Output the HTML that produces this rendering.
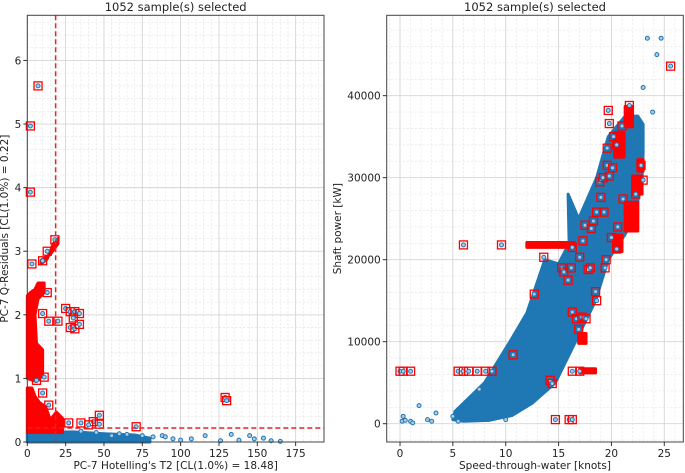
<!DOCTYPE html>
<html><head><meta charset="utf-8"><style>
body{margin:0;background:#fff;}
svg{display:block;font-family:"DejaVu Sans","Liberation Sans",sans-serif;}
</style></head><body>
<svg id="c" width="685" height="473" xmlns="http://www.w3.org/2000/svg"></svg>
<script>
// ---------- Left chart data ----------
const leftXTicks=[0,25,50,75,100,125,150,175];
const leftYTicks=[0,1,2,3,4,5,6];
const t2Limit=18.48, qLimit=0.22;
const leftBlueBand=[[0,0],[0,0.15],[30,0.16],[50,0.13],[70,0.11],[80,0.06],[80,0]];
const leftBluePts=[[35,0.17],[45,0.15],[55,0.1],[60,0.13],[65,0.12],[75,0.1],[82,0.08],[88,0.1],[90,0.08],[95,0.05],[100,0.03],[107,0.05],[116,0.1],[126,0.02],[133,0.12],[138,0.03],[145,0.1],[148,0.05],[154,0.06],[159,0.02],[165,0.01]];
const leftRedClusters=[
 [[0,0.15],[0,0.85],[3,0.85],[5,0.72],[8,0.62],[12,0.55],[15,0.35],[19,0.47],[23,0.37],[23,0.15]],
 [[0,1.0],[0,2.3],[2,2.35],[5,2.4],[7,2.5],[11,2.5],[11,2.35],[7,2.25],[5,2.0],[6,1.55],[10,1.45],[10,1.05],[6,0.95]],
 [[9,2.8],[13,2.88],[17,3.12],[20,3.2],[20,3.12],[15,2.95],[12,2.9],[9,2.86]]
];
const leftRedPts=[[2,4.97],[2,3.93],[7,5.6],[3,2.8],[13,2.35],[10,2.02],[14,1.9],[20,1.9],[25,2.1],[28,2.05],[31,2.05],[34,2.02],[28,1.8],[31,1.78],[34,1.85],[30,1.95],[11,1.02],[10,0.77],[6,0.97],[27,0.3],[35,0.3],[43,0.32],[47,0.42],[47,0.28],[40,0.27],[71,0.24],[129,0.7],[130,0.65],[14,0.58],[10,2.85],[13,3.0],[18,3.18]];
// ---------- Right chart data ----------
const rightXTicks=[0,5,10,15,20,25];
const rightYTicks=[0,10000,20000,30000,40000];
const rightCloud=[[5,500],[5.2,1500],[8,5000],[10.4,10000],[12,13500],[13.7,20000],[15,19500],[16,22000],[15.9,28000],[16.9,25000],[18.6,30000],[19.7,35000],[21.3,37500],[22.5,37500],[23,36500],[23,33000],[22.9,30000],[22.2,25000],[21,22500],[19.7,20000],[18.5,15000],[16.6,10000],[14.7,5000],[12.5,2500],[10.6,1000],[8.4,400],[6,300]];
const rightBluePts=[[0.2,300],[0.3,900],[0.5,400],[1,300],[1.2,100],[1.8,2200],[2.6,500],[3,300],[3.4,1300],[5,900],[5.5,300],[7.5,4200],[10,500],[23.4,47000],[24.7,47000],[24.3,45000],[23,41000],[23.9,38000]];
const rightRedClusters=[
 [[12,21500],[16.5,21500],[16.5,22100],[12,22100]],
 [[17,6200],[18.5,6200],[18.5,6700],[17,6700]],
 [[16.9,9800],[17.6,9800],[17.6,11000],[16.9,11000]],
 [[21.3,36200],[22,36200],[22,38700],[21.3,38700]],
 [[20.3,32500],[21.2,32500],[21.2,35500],[20.3,35500]],
 [[22,28000],[22.9,28000],[22.9,30200],[22,30200]],
 [[21.3,23500],[22.5,23500],[22.5,27000],[21.3,27000]],
 [[20.2,21000],[21,21000],[21,23000],[20.2,23000]],
 [[22.5,30800],[23,30800],[23,32200],[22.5,32200]]
];
const rightRedPts=[[0,6400],[0.3,6400],[1,6400],[5.5,6400],[6,6400],[6.5,6400],[7.3,6400],[8.1,6400],[8.7,6400],[16.3,6400],[17,6400],[6,21800],[9.6,21800],[13.6,20300],[12.7,15800],[10.7,8400],[14.2,5300],[14.4,4900],[14.7,500],[16,500],[16.3,500],[16.3,21500],[16.2,19000],[15.3,19000],[15.5,18500],[15.9,17500],[16.3,13600],[16.7,12800],[17.2,13000],[17.6,12800],[16.9,11500],[17,20300],[17.3,22300],[17.5,24200],[17.8,18800],[18,19000],[18.1,23800],[18.3,24700],[18.5,16100],[18.6,15000],[18.6,25800],[19.4,19000],[19.5,20000],[19.3,25800],[20,22700],[20.5,21300],[20.6,24000],[19,27600],[18.9,29500],[19.2,30000],[19.6,31500],[19.8,30200],[20.1,31200],[19.6,33600],[19.8,36600],[19.7,38200],[21.7,38800],[21,36300],[20.2,35000],[20.5,34000],[22.8,31500],[23,29700],[21.1,27400],[22.3,28000],[25.6,43600]];

const NS="http://www.w3.org/2000/svg";
const svg=document.getElementById('c');
function el(tag,attrs,parent){const e=document.createElementNS(NS,tag);for(const k in attrs)e.setAttribute(k,attrs[k]);(parent||svg).appendChild(e);return e;}

function panel(cfg){
 const g=el('g',{});
 
 
 const {L,R,T,B,x0,x1,y0,y1}=cfg;
 const sx=v=>L+(v-x0)/(x1-x0)*(R-L);
 const sy=v=>B-(v-y0)/(y1-y0)*(B-T);
 for(let v=Math.ceil(x0/cfg.xm)*cfg.xm;v<=x1;v+=cfg.xm){el('line',{x1:sx(v),x2:sx(v),y1:T,y2:B,stroke:'#e4e4e4','stroke-width':0.7,'stroke-dasharray':'2,2'},g);}
 for(let v=Math.ceil(y0/cfg.ym)*cfg.ym;v<=y1;v+=cfg.ym){el('line',{y1:sy(v),y2:sy(v),x1:L,x2:R,stroke:'#e4e4e4','stroke-width':0.7,'stroke-dasharray':'2,2'},g);}
 cfg.xt.forEach(v=>{el('line',{x1:sx(v),x2:sx(v),y1:T,y2:B,stroke:'#d6d6d6','stroke-width':0.9},g);});
 cfg.yt.forEach(v=>{el('line',{y1:sy(v),y2:sy(v),x1:L,x2:R,stroke:'#d6d6d6','stroke-width':0.9},g);});
 const poly=(pts,fill,name)=>{const p=el('polygon',{points:pts.map(q=>sx(q[0])+','+sy(q[1])).join(' '),fill:fill,stroke:fill,'stroke-width':3,'stroke-linejoin':'round'},g);};
 cfg.blueArea.forEach(a=>poly(a,'#1f77b4','blue-cloud'));
 cfg.bluePts.forEach(q=>{const c=el('circle',{cx:sx(q[0]),cy:sy(q[1]),r:2,fill:'#a9cbe5',stroke:'#1f77b4','stroke-width':1},g);});
 cfg.redArea.forEach(a=>poly(a,'#ff0000','selected-cluster'));
 cfg.redPts.forEach(q=>{
  const x=sx(q[0]),y=sy(q[1]);
  el('circle',{cx:x,cy:y,r:2,fill:'#a9cbe5',stroke:'#1f77b4','stroke-width':1},g);
  const r=el('rect',{x:x-4,y:y-4,width:8,height:8,fill:'none',stroke:'#ff0000','stroke-width':1.3},g);
  
 });
 if(cfg.limits){
  const a=el('line',{x1:sx(cfg.limits[0]),x2:sx(cfg.limits[0]),y1:T,y2:B,stroke:'#e8212a','stroke-width':1.5,'stroke-dasharray':'5,3'},g);
  
  const b=el('line',{x1:L,x2:R,y1:sy(cfg.limits[1]),y2:sy(cfg.limits[1]),stroke:'#e8212a','stroke-width':1.5,'stroke-dasharray':'5,3'},g);
  
 }
 const fr=el('rect',{x:L,y:T,width:R-L,height:B-T,fill:'none',stroke:'#444','stroke-width':1},g);
 
 cfg.xt.forEach(v=>{el('line',{x1:sx(v),x2:sx(v),y1:B,y2:B+4,stroke:'#333'},g);
  const t=el('text',{x:sx(v),y:B+15,'font-size':10.5,'text-anchor':'middle',fill:'#222'},g);t.textContent=v;
  });
 cfg.yt.forEach(v=>{el('line',{x1:L-4,x2:L,y1:sy(v),y2:sy(v),stroke:'#333'},g);
  const t=el('text',{x:L-6,y:sy(v)+4,'font-size':10.5,'text-anchor':'end',fill:'#222'},g);t.textContent=v;
  });
 const ti=el('text',{x:(L+R)/2,y:11,'font-size':11.5,'text-anchor':'middle',fill:'#222'},g);ti.textContent='1052 sample(s) selected';
 
 const xl=el('text',{x:(L+R)/2,y:469,'font-size':10.5,'text-anchor':'middle',fill:'#222'},g);xl.textContent=cfg.xlabel;
 
 const yl=el('text',{x:0,y:0,'font-size':10.5,'text-anchor':'middle',fill:'#222',transform:`translate(${cfg.ylx},${(T+B)/2}) rotate(-90)`},g);yl.textContent=cfg.ylabel;
 
}
panel({name:'q-vs-t2-plot',L:27.3,R:324,T:15.3,B:442,x0:0,x1:193.5,y0:0,y1:6.71,xm:5,ym:0.2,xt:leftXTicks,yt:leftYTicks,
 blueArea:[leftBlueBand],bluePts:leftBluePts,redArea:leftRedClusters,redPts:leftRedPts,limits:[t2Limit,qLimit],
 xlabel:"PC-7 Hotelling's T2 [CL(1.0%) = 18.48]",ylabel:'PC-7 Q-Residuals [CL(1.0%) = 0.22]',ylx:8});
panel({name:'power-vs-speed-plot',L:386.7,R:683.3,T:15.3,B:442,x0:-1.26,x1:26.8,y0:-2232,y1:49800,xm:1,ym:2000,xt:rightXTicks,yt:rightYTicks,
 blueArea:[rightCloud],bluePts:rightBluePts,redArea:rightRedClusters,redPts:rightRedPts,limits:null,
 xlabel:'Speed-through-water [knots]',ylabel:'Shaft power [kW]',ylx:341});
</script>
</body></html>
